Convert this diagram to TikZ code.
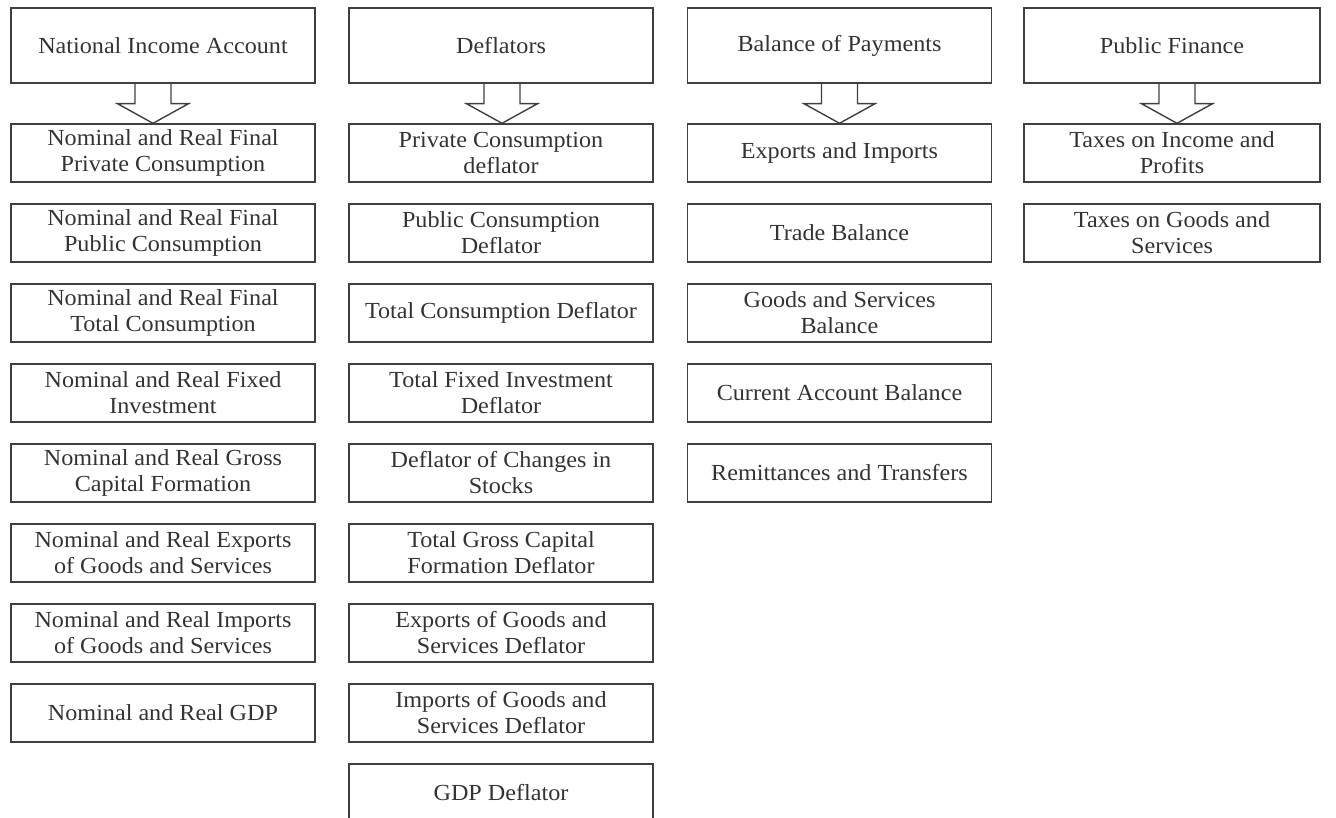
\documentclass[tikz,border=0pt]{standalone}
\usepackage{fontspec}
\setmainfont[FakeStretch=1.05]{Liberation Serif}
\usetikzlibrary{calc}
\newcommand\blockarr[3]{%
  \coordinate (arrtop) at ($(#1.south)+(#3,0)$);
  \coordinate (arrtip) at (arrtop |- #2.north);
  \draw[barrow] ($(arrtop)+(-18,0)$) -- ($(arrtop)+(-18,20)$) -- ($(arrtop)+(-35.5,20)$)
    -- (arrtip) -- ($(arrtop)+(35.5,20)$) -- ($(arrtop)+(18,20)$) -- ($(arrtop)+(18,0)$);
}
\begin{document}
\begin{tikzpicture}[x=1pt,y=-1pt,
  box/.style={draw=black!75, line width=1.4pt, text=black!80, minimum width=304pt,
    minimum height=58pt, inner sep=0pt, align=center,
    font=\fontsize{23}{26}\selectfont},
  narrowbox/.style={box, minimum width=296pt},
  headbox/.style={minimum height=75pt},
  barrow/.style={draw=black!75, line width=1.4pt, line join=miter}]
\useasboundingbox (0,0) rectangle (1336,818);

% Column 1
\node[box,headbox] (h1) at (163,45.5) {National Income Account};
\node[box] (a1) at (163,153) {Nominal and Real Final\\Private Consumption};
\node[box] (a2) at (163,233) {Nominal and Real Final\\Public Consumption};
\node[box] (a3) at (163,313) {Nominal and Real Final\\Total Consumption};
\node[box] (a4) at (163,393) {Nominal and Real Fixed\\Investment};
\node[box] (a5) at (163,473) {Nominal and Real Gross\\Capital Formation};
\node[box] (a6) at (163,553) {Nominal and Real Exports\\of Goods and Services};
\node[box] (a7) at (163,633) {Nominal and Real Imports\\of Goods and Services};
\node[box] (a8) at (163,713) {Nominal and Real GDP};

% Column 2
\node[box,headbox] (h2) at (501,45.5) {Deflators};
\node[box] (b1) at (501,153) {Private Consumption\\deflator};
\node[box] (b2) at (501,233) {Public Consumption\\Deflator};
\node[box] (b3) at (501,313) {Total Consumption Deflator};
\node[box] (b4) at (501,393) {Total Fixed Investment\\Deflator};
\node[box] (b5) at (501,473) {Deflator of Changes in\\Stocks};
\node[box] (b6) at (501,553) {Total Gross Capital\\Formation Deflator};
\node[box] (b7) at (501,633) {Exports of Goods and\\Services Deflator};
\node[box] (b8) at (501,713) {Imports of Goods and\\Services Deflator};
\node[box] (b9) at (501,793) {GDP Deflator};

% Column 3
\node[box,headbox] (h3) at (839.5,45.5) {Balance of Payments};
\node[box] (c1) at (839.5,153) {Exports and Imports};
\node[box] (c2) at (839.5,233) {Trade Balance};
\node[box] (c3) at (839.5,313) {Goods and Services\\Balance};
\node[box] (c4) at (839.5,393) {Current Account Balance};
\node[box] (c5) at (839.5,473) {Remittances and Transfers};

% Column 4
\node[narrowbox,headbox] (h4) at (1172,45.5) {Public Finance};
\node[narrowbox] (d1) at (1172,153) {Taxes on Income and\\Profits};
\node[narrowbox] (d2) at (1172,233) {Taxes on Goods and\\Services};

% Block arrows
\blockarr{h1}{a1}{-10}
\blockarr{h2}{b1}{1}
\blockarr{h3}{c1}{0}
\blockarr{h4}{d1}{5}
\end{tikzpicture}
\end{document}
